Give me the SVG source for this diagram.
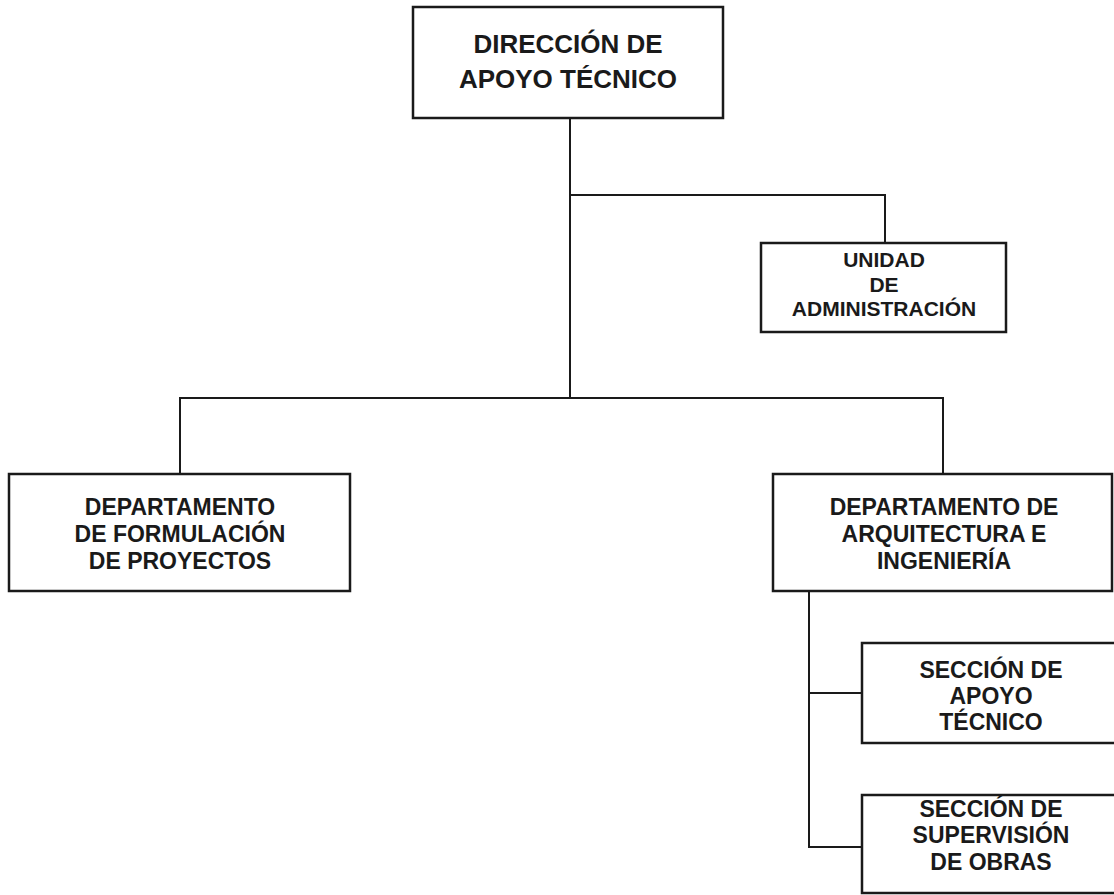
<svg xmlns="http://www.w3.org/2000/svg" width="1114" height="895" viewBox="0 0 1114 895">
<style>
.box{fill:#fff;stroke:#1a1a1a;stroke-width:2.5}
.ln{fill:none;stroke:#1a1a1a;stroke-width:2}
text{font-family:"Liberation Sans",Arial,sans-serif;font-weight:bold;fill:#1a1a1a;text-anchor:middle}
</style>
<rect width="1114" height="895" fill="#fff"/>
<g id="connectors">
<path class="ln" d="M570 118 V398"/>
<path class="ln" d="M570 195 H885 V243"/>
<path class="ln" d="M180 474 V398 H943 V474"/>
<path class="ln" d="M809 591 V847 H862"/>
<path class="ln" d="M809 693 H862"/>
</g>
<g id="direccion">
<rect class="box" x="413" y="7" width="310" height="111"/>
<text x="568" y="53" font-size="26">DIRECCIÓN DE</text>
<text x="568" y="88" font-size="26">APOYO TÉCNICO</text>
</g>
<g id="unidad">
<rect class="box" x="761" y="243" width="245" height="89"/>
<text x="884" y="267" font-size="21">UNIDAD</text>
<text x="884" y="292" font-size="21">DE</text>
<text x="884" y="316" font-size="21">ADMINISTRACIÓN</text>
</g>
<g id="formulacion">
<rect class="box" x="9" y="474" width="341" height="117"/>
<text x="180" y="515" font-size="23">DEPARTAMENTO</text>
<text x="180" y="542" font-size="23">DE FORMULACIÓN</text>
<text x="180" y="569" font-size="23">DE PROYECTOS</text>
</g>
<g id="arquitectura">
<rect class="box" x="773" y="474" width="339" height="117"/>
<text x="944" y="515" font-size="23">DEPARTAMENTO  DE</text>
<text x="944" y="542" font-size="23">ARQUITECTURA E</text>
<text x="944" y="569" font-size="23">INGENIERÍA</text>
</g>
<g id="apoyo">
<rect class="box" x="862" y="643" width="258" height="100"/>
<text x="991" y="678" font-size="23">SECCIÓN DE</text>
<text x="991" y="704" font-size="23">APOYO</text>
<text x="991" y="730" font-size="23">TÉCNICO</text>
</g>
<g id="supervision">
<rect class="box" x="862" y="795" width="258" height="98"/>
<text x="991" y="817" font-size="23">SECCIÓN DE</text>
<text x="991" y="843" font-size="23">SUPERVISIÓN</text>
<text x="991" y="870" font-size="23">DE OBRAS</text>
</g>
</svg>
